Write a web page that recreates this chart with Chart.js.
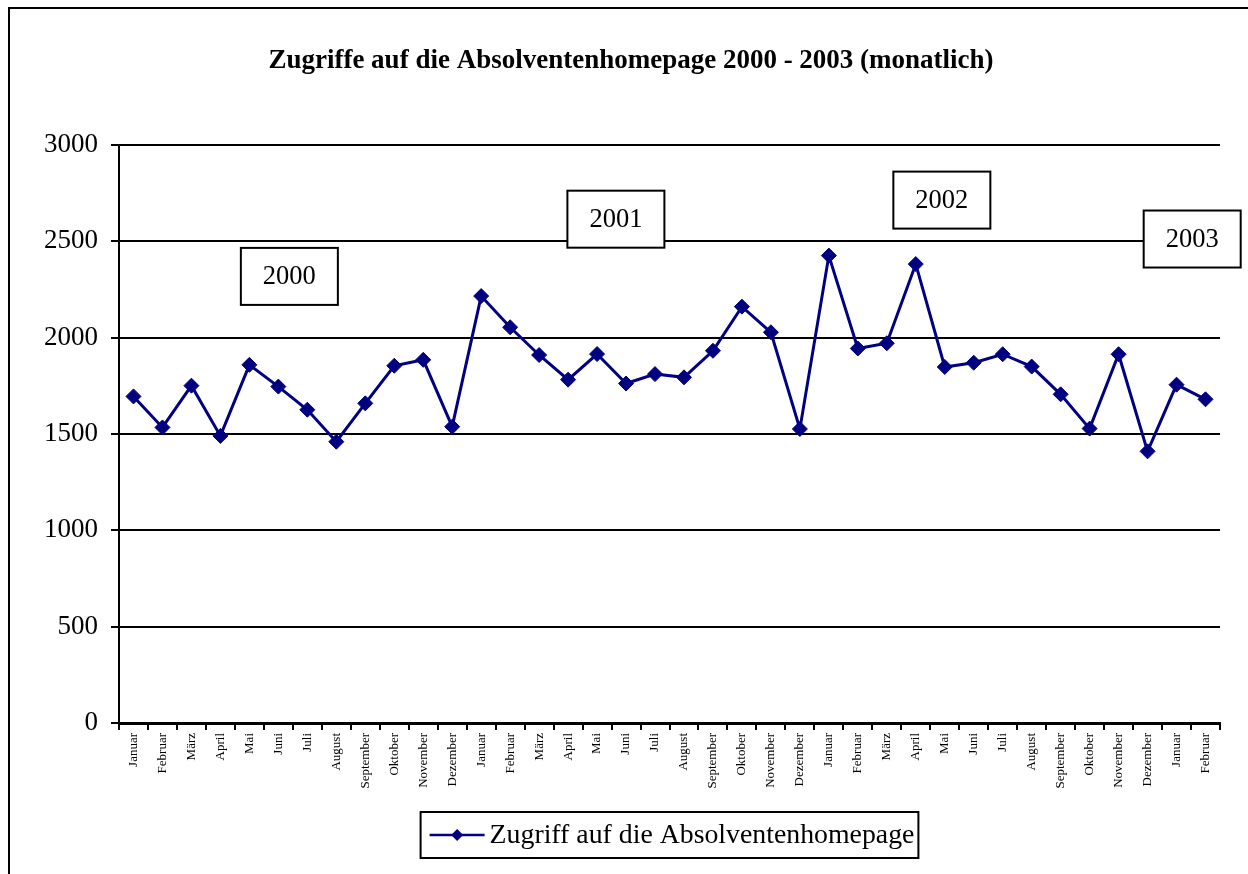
<!DOCTYPE html>
<html><head><meta charset="utf-8">
<script src="https://cdn.jsdelivr.net/npm/chart.js@4.4.0/dist/chart.umd.min.js"></script>
<style>html,body{margin:0;padding:0;background:#fff}#wrap{width:1248px;height:874px;position:relative}</style>
</head><body><div id="wrap"><canvas id="c" width="1248" height="874"></canvas></div>
<script>
const titleText = 'Zugriffe auf die Absolventenhomepage 2000 - 2003 (monatlich)';
const seriesLabel = 'Zugriff auf die Absolventenhomepage';
const categories = [
  'Januar','Februar','März','April','Mai','Juni','Juli','August','September','Oktober','November','Dezember',
  'Januar','Februar','März','April','Mai','Juni','Juli','August','September','Oktober','November','Dezember',
  'Januar','Februar','März','April','Mai','Juni','Juli','August','September','Oktober','November','Dezember',
  'Januar','Februar'
];
const values = [
  1695,1534,1751,1490,1859,1746,1626,1460,1659,1854,1885,1538,
  2216,2054,1910,1782,1915,1762,1811,1794,1932,2161,2028,1526,
  2426,1944,1971,2382,1848,1870,1914,1850,1706,1528,1914,1410,
  1756,1680
];
const yTicks = [0,500,1000,1500,2000,2500,3000];
const yearLabels = ['2000','2001','2002','2003'];
const yearLabelX = [5.38, 16.65, 27.9, 36.54];   // category index (data units)
const yearLabelY = [2318, 2615, 2714, 2512];     // value (data units)

const FONT = '"Liberation Serif", "Times New Roman", serif';
const NAVY = '#000080';

const extras = {
  id: 'extras',
  afterDraw(chart) {
    const ctx = chart.ctx, ca = chart.chartArea;
    const xs = chart.scales.x, ys = chart.scales.y;
    ctx.save();
    // outer frame
    ctx.strokeStyle = '#000'; ctx.lineWidth = 2;
    ctx.strokeRect(9, 8, 1400, 1000);
    // title (centred on the outer frame)
    ctx.font = 'bold 27px ' + FONT;
    ctx.fillStyle = '#000'; ctx.textAlign = 'center'; ctx.textBaseline = 'middle';
    ctx.fillText(titleText, 631, 61);
    // year boxes
    ctx.font = '26.5px ' + FONT;
    for (let i = 0; i < yearLabels.length; i++) {
      const cx = xs.getPixelForValue(yearLabelX[i]);
      const cy = ys.getPixelForValue(yearLabelY[i]);
      const w = 97, h = 57;
      ctx.fillStyle = '#fff';
      ctx.fillRect(cx - w/2, cy - h/2, w, h);
      ctx.strokeStyle = '#000'; ctx.lineWidth = 2;
      ctx.strokeRect(cx - w/2, cy - h/2, w, h);
      ctx.fillStyle = '#000';
      ctx.fillText(yearLabels[i], cx, cy + 1);
    }
    // legend
    ctx.font = '27.8px ' + FONT;
    const tw = ctx.measureText(seriesLabel).width;
    const padL = 9, sampleW = 55, gap = 5, padR = 4;
    const lw = padL + sampleW + gap + tw + padR, lh = 46;
    const lx = (ca.left + ca.right) / 2 - lw / 2, ly = 812;
    ctx.fillStyle = '#fff'; ctx.fillRect(lx, ly, lw, lh);
    ctx.strokeStyle = '#000'; ctx.lineWidth = 2; ctx.strokeRect(lx, ly, lw, lh);
    const cyL = ly + lh / 2;
    ctx.strokeStyle = NAVY; ctx.lineWidth = 2.5;
    ctx.beginPath(); ctx.moveTo(lx + padL, cyL); ctx.lineTo(lx + padL + sampleW, cyL); ctx.stroke();
    const dx = lx + padL + sampleW / 2, r = 6;
    ctx.fillStyle = NAVY;
    ctx.beginPath(); ctx.moveTo(dx - r, cyL); ctx.lineTo(dx, cyL - r); ctx.lineTo(dx + r, cyL); ctx.lineTo(dx, cyL + r); ctx.closePath(); ctx.fill();
    ctx.fillStyle = '#000'; ctx.textAlign = 'left'; ctx.textBaseline = 'middle';
    ctx.fillText(seriesLabel, lx + padL + sampleW + gap, cyL + 1);
    ctx.restore();
  }
};

new Chart(document.getElementById('c'), {
  type: 'line',
  data: {
    labels: categories,
    datasets: [{
      label: seriesLabel,
      data: values,
      borderColor: NAVY,
      backgroundColor: NAVY,
      borderWidth: 3,
      pointStyle: 'rectRot',
      pointRadius: 7.5,
      pointBorderWidth: 1,
      pointBackgroundColor: NAVY,
      pointBorderColor: NAVY,
      tension: 0,
      fill: false
    }]
  },
  options: {
    responsive: false,
    animation: false,
    devicePixelRatio: 1,
    layout: { padding: { left: 0, right: 28, top: 145, bottom: 0 } },
    plugins: {
      legend: { display: false },
      tooltip: { enabled: false },
      title: { display: false }
    },
    scales: {
      x: {
        type: 'category',
        offset: true,
        grid: { offset: true, drawOnChartArea: false, drawTicks: true, tickLength: 7, color: '#000', lineWidth: 2 },
        border: { display: true, color: '#000', width: 3 },
        ticks: { autoSkip: false, maxRotation: 90, minRotation: 90, padding: 3, color: '#000', font: { family: FONT, size: 13 } },
        afterFit(s) { s.height = 151; }
      },
      y: {
        min: 0, max: 3000,
        afterBuildTicks(s) { s.ticks = yTicks.map(v => ({ value: v })); },
        ticks: { padding: 13, color: '#000', font: { family: FONT, size: 27 }, callback: v => String(v) },
        grid: { color: '#000', lineWidth: 2, tickLength: 8, drawTicks: true },
        border: { display: true, color: '#000', width: 2 },
        afterFit(s) { s.width = 119; }
      }
    }
  },
  plugins: [extras]
});
</script></body></html>
